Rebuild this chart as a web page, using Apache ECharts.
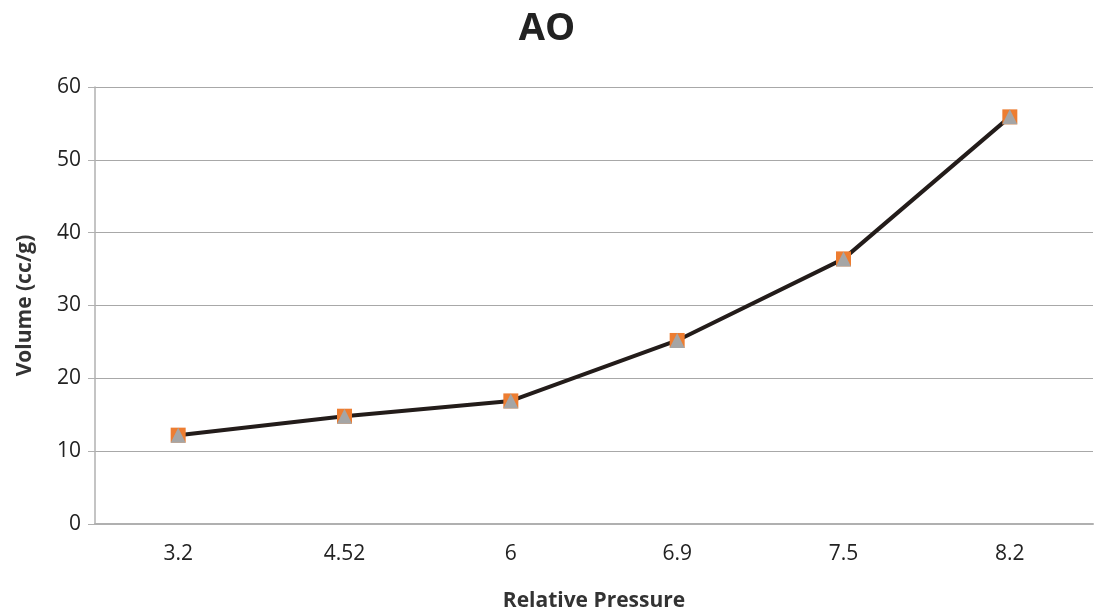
<!DOCTYPE html>
<html>
<head>
<meta charset="utf-8">
<script src="https://cdn.jsdelivr.net/npm/echarts@6/dist/echarts.min.js"></script>
<style>html,body{margin:0;padding:0;background:#fff;}#c{width:1094px;height:614px;}</style>
</head>
<body>
<div id="c"></div>
<script>
const categories = ['3.2', '4.52', '6', '6.9', '7.5', '8.2'];
const volume = [12.2, 14.8, 16.9, 25.2, 36.4, 55.9];
const yTicks = { min: 0, max: 60, interval: 10 };

const chart = echarts.init(document.getElementById('c'));
const font = '"Open Sans", "Noto Sans", sans-serif';
chart.setOption({
  animation: false,
  backgroundColor: '#ffffff',
  title: {
    text: 'AO', left: 'center', top: 5,
    textStyle: { fontFamily: font, fontSize: 38, fontWeight: 'bold', color: '#222' }
  },
  grid: { left: 95, right: 1, top: 87, bottom: 90, containLabel: false, outerBoundsMode: 'none' },
  xAxis: {
    type: 'category', data: categories, boundaryGap: true,
    name: 'Relative Pressure', nameLocation: 'middle', nameGap: 67,
    nameTextStyle: { fontFamily: font, fontSize: 21, fontWeight: 'bold', color: '#333' },
    axisLine: { lineStyle: { color: '#b0b0b0', width: 2 } },
    axisTick: { show: false },
    axisLabel: { fontFamily: font, fontSize: 21, color: '#222', margin: 20 }
  },
  yAxis: {
    type: 'value', min: yTicks.min, max: yTicks.max, interval: yTicks.interval,
    name: 'Volume (cc/g)', nameLocation: 'middle', nameGap: 59,
    nameTextStyle: { fontFamily: font, fontSize: 21, fontWeight: 'bold', color: '#333' },
    axisLine: { show: true, lineStyle: { color: '#b0b0b0', width: 1.5 } },
    axisTick: { show: true, length: 7, lineStyle: { color: '#b0b0b0' } },
    axisLabel: { fontFamily: font, fontSize: 21, color: '#222', margin: 14 },
    splitLine: { lineStyle: { color: '#a8a8a8', width: 1.2 } }
  },
  series: [
    {
      type: 'line', data: volume, z: 3,
      lineStyle: { color: '#231c1a', width: 4 },
      symbol: 'rect', symbolSize: 15,
      itemStyle: { color: '#ed7d31' }
    },
    {
      type: 'line', data: volume, z: 4,
      lineStyle: { width: 0 },
      symbol: 'triangle', symbolSize: 15,
      itemStyle: { color: '#a5a5a5' }
    }
  ]
});
</script>
</body>
</html>
